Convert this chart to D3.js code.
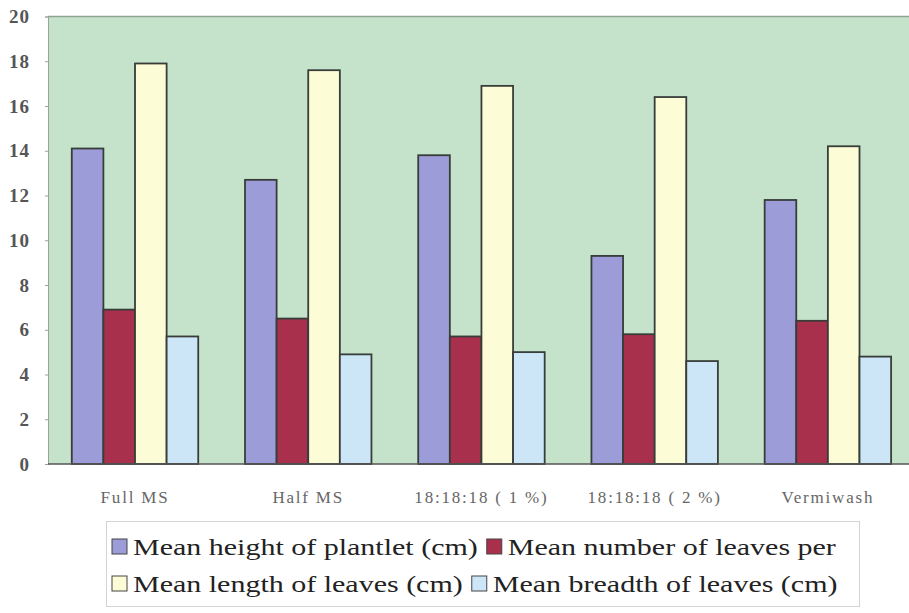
<!DOCTYPE html>
<html>
<head>
<meta charset="utf-8">
<script src="https://cdn.jsdelivr.net/npm/d3@7"></script>
<style>
    html, body { margin: 0; padding: 0; background: #fff; }
    svg { display: block; }
    text { font-family: "Liberation Serif", "Times New Roman", serif; }
</style>
</head>
<body>
<div id="view"></div>
<script>
var categories = ["Full MS", "Half MS", "18:18:18 ( 1 %)", "18:18:18 ( 2 %)", "Vermiwash"];
var seriesNames = [
    "Mean height of plantlet (cm)",
    "Mean number of leaves per",
    "Mean length of leaves (cm)",
    "Mean breadth of leaves (cm)",
];
var heightValues = [14.1, 12.7, 13.8, 9.3, 11.8];
var leafNumberValues = [6.9, 6.5, 5.7, 5.8, 6.4];
var lengthValues = [17.9, 17.6, 16.9, 16.4, 14.2];
var breadthValues = [5.7, 4.9, 5.0, 4.6, 4.8];
var yTicks = [0, 2, 4, 6, 8, 10, 12, 14, 16, 18, 20];
var colors = ["#9c9cd8", "#a8304c", "#fcfcd6", "#cde6f7"];

var chart = {
    width: 909,
    height: 613,
    left: 48.4,
    right: 914.5,
    top: 16.5,
    bottom: 464,
};

var series = [heightValues, leafNumberValues, lengthValues, breadthValues];
var table = categories.map((c, i) => ({
    category: c,
    values: series.map((s, j) => ({key: seriesNames[j], value: s[i], color: colors[j]})),
}));

var svg = d3.select("#view").append("svg")
    .attr("width", chart.width)
    .attr("height", chart.height);

var x = d3.scaleBand()
    .domain(categories)
    .range([chart.left, chart.right])
    .paddingInner(0.27)
    .paddingOuter(0.135);

var x1 = d3.scaleBand()
    .domain(seriesNames)
    .range([0, x.bandwidth()]);

var y = d3.scaleLinear()
    .domain([0, 20])
    .range([chart.bottom, chart.top]);

// plot area
svg.append("rect")
    .attr("x", 48)
    .attr("y", chart.top)
    .attr("width", chart.width - 48)
    .attr("height", chart.bottom - chart.top)
    .attr("fill", "#c5e3cb");

svg.append("line")
    .attr("x1", 48).attr("x2", chart.width)
    .attr("y1", chart.top).attr("y2", chart.top)
    .attr("stroke", "#8fa593").attr("stroke-width", 1.5);

// y axis
var yAxis = svg.append("g")
    .attr("transform", `translate(48, 0)`)
    .call(d3.axisLeft(y).tickValues(yTicks).tickSize(3).tickPadding(15));
yAxis.select(".domain").attr("stroke", "#9aa39a");
yAxis.selectAll(".tick line").attr("stroke", "#9aa39a");
yAxis.selectAll(".tick text")
    .attr("font-size", 19)
    .attr("letter-spacing", 1)
    .attr("font-weight", "bold")
    .attr("fill", "#555");

// bars
var groups = svg.append("g").selectAll("g")
    .data(table)
    .join("g")
    .attr("transform", d => `translate(${x(d.category)}, 0)`);

groups.selectAll("rect")
    .data(d => d.values)
    .join("rect")
    .attr("x", d => x1(d.key))
    .attr("y", d => y(d.value))
    .attr("width", x1.bandwidth())
    .attr("height", d => y(0) - y(d.value))
    .attr("fill", d => d.color)
    .attr("stroke", "#383d3a")
    .attr("stroke-width", 1.8);

// x axis
svg.append("line")
    .attr("x1", 48).attr("x2", chart.width)
    .attr("y1", chart.bottom).attr("y2", chart.bottom)
    .attr("stroke", "#555").attr("stroke-width", 1.5);

svg.append("g").selectAll("text")
    .data(categories)
    .join("text")
    .attr("x", d => x(d) + x.bandwidth() / 2)
    .attr("y", 503)
    .attr("text-anchor", "middle")
    .attr("font-size", 17)
    .attr("letter-spacing", 1.8)
    .attr("fill", "#666")
    .text(d => d);

// legend: items flow in two rows, text stretched like the scanned original
var stretch = 1.25;
var legend = svg.append("g");
legend.append("rect")
    .attr("x", 106.5).attr("y", 521.5)
    .attr("width", 753).attr("height", 85)
    .attr("fill", "#fff")
    .attr("stroke", "#d4d4d4");

var rows = [[0, 1], [2, 3]];
rows.forEach((row, r) => {
    var cx = 112;
    var cy = r ? 584 : 547;
    row.forEach(i => {
        var item = legend.append("g").attr("transform", `translate(${cx}, ${cy})`);
        item.append("rect")
            .attr("x", 0).attr("y", -8)
            .attr("width", 15).attr("height", 15)
            .attr("fill", colors[i])
            .attr("stroke", "#444")
            .attr("stroke-width", 1);
        var t = item.append("text")
            .attr("transform", `translate(21, 8) scale(${stretch}, 1)`)
            .attr("font-size", 24)
            .attr("fill", "#222")
            .text(seriesNames[i]);
        cx += 21 + t.node().getComputedTextLength() * stretch + 9;
    });
});
</script>
</body>
</html>
